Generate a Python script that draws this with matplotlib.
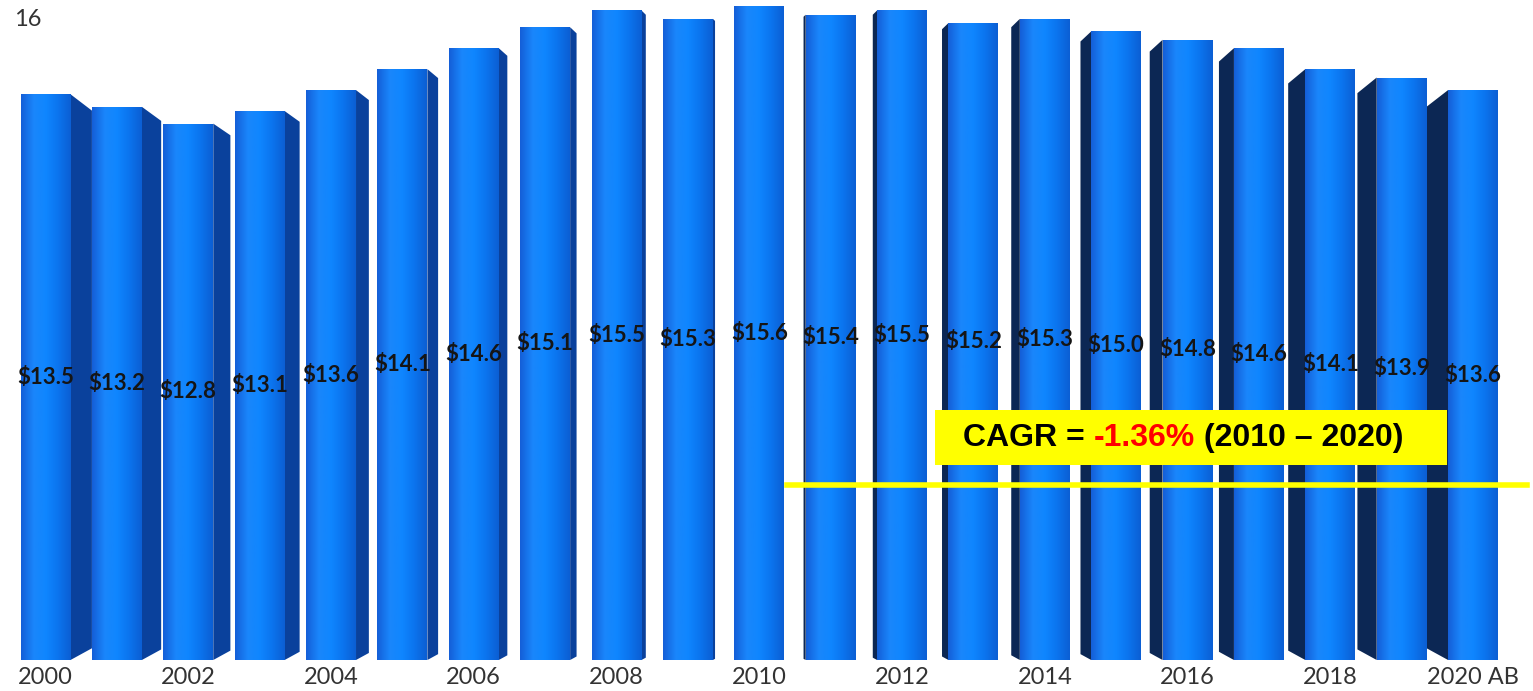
import matplotlib

matplotlib.use("Agg")
import matplotlib.pyplot as plt
import numpy as np
from matplotlib.colors import LinearSegmentedColormap
from matplotlib.patches import Polygon, Rectangle
from matplotlib.lines import Line2D

# --- data -------------------------------------------------------------------
years = list(range(2000, 2021))
values = [13.5, 13.2, 12.8, 13.1, 13.6, 14.1, 14.6, 15.1, 15.5, 15.3, 15.6,
          15.4, 15.5, 15.2, 15.3, 15.0, 14.8, 14.6, 14.1, 13.9, 13.6]
value_labels = [f"${v:.1f}" for v in values]
tick_labels = [str(y) for y in years[:-1:2]] + ["2020 AB"]
cagr_parts = [("CAGR = ", "black"), ("-1.36%", "#ff0000"), (" (2010 \u2013 2020)", "black")]

W, H = 1533, 691
fig = plt.figure(figsize=(W / 100, H / 100), dpi=100)
ax = fig.add_axes([0, 31 / H, 1, 660 / H])

x = np.arange(len(years))
bw = 0.70
center = 10
vp_y = 7.0

front_cmap = LinearSegmentedColormap.from_list(
    "front", ["#145fd8", "#1a86fb", "#0f86ff", "#0b74ee", "#0c5fd4"])
grad = np.linspace(0, 1, 64).reshape(1, -1)

# side faces first so the neighbouring front hides their back edge
for xi, v in zip(x, values):
    off = xi - center
    if off == 0:
        continue
    t = abs(off) / 10
    dx = 0.030 * abs(off)
    drop = t * 0.06 * (v - vp_y)
    rise = t * 0.04 * vp_y
    if off < 0:
        xf = xi + bw / 2
        xb = xf + dx
        col = "#0a419c"
    else:
        xf = xi - bw / 2
        xb = xf - dx
        col = "#0c2754"
    ax.add_patch(Polygon([(xf, 0), (xf, v), (xb, v - drop), (xb, rise)],
                         closed=True, facecolor=col, edgecolor="none", zorder=1))

for xi, v in zip(x, values):
    rect = Rectangle((xi - bw / 2, 0), bw, v, facecolor="none", edgecolor="none")
    ax.add_patch(rect)
    im = ax.imshow(grad, cmap=front_cmap, aspect="auto",
                   extent=(xi - bw / 2, xi + bw / 2, 0, v), zorder=2)
    im.set_clip_path(rect)

for xi, v, lab in zip(x, values, value_labels):
    ax.text(xi, v / 2, lab, ha="center", va="center", fontsize=16,
            fontweight="bold", family="Lato", color="#151515", zorder=5)

ax.set_xlim(-0.638, 20.84)
ax.set_ylim(0, 15.75)
ax.set_xticks(x[::2])
ax.set_xticklabels(tick_labels, fontsize=17, family="Lato", color="#333333")
ax.tick_params(axis="x", length=0, pad=5)
ax.set_yticks([])
for s in ax.spines.values():
    s.set_visible(False)

fig.text(14 / W, 1 - 20 / H, "16", fontsize=17, family="Lato", color="#333333",
         ha="left", va="center")

# CAGR callout
fig.add_artist(Rectangle((935 / W, 1 - 465 / H), 512 / W, 55 / H,
                         transform=fig.transFigure, facecolor="#ffff00",
                         edgecolor="none", zorder=6))
fig.add_artist(Line2D([787 / W, 1527 / W], [1 - 485 / H, 1 - 485 / H],
                      transform=fig.transFigure, color="#ffff00", lw=4, zorder=6))

renderer = fig.canvas.get_renderer()
pieces = []
for txt, col in cagr_parts:
    t = fig.text(0, 1 - 438 / H, txt, fontsize=23, fontweight="bold",
                 family="Liberation Sans", color=col, ha="left", va="center", zorder=7)
    pieces.append(t)
widths = [p.get_window_extent(renderer).width for p in pieces]
xpos = 1183 - sum(widths) / 2
for p, w in zip(pieces, widths):
    p.set_x(xpos / W)
    xpos += w

fig.savefig("out.png", dpi=100)
